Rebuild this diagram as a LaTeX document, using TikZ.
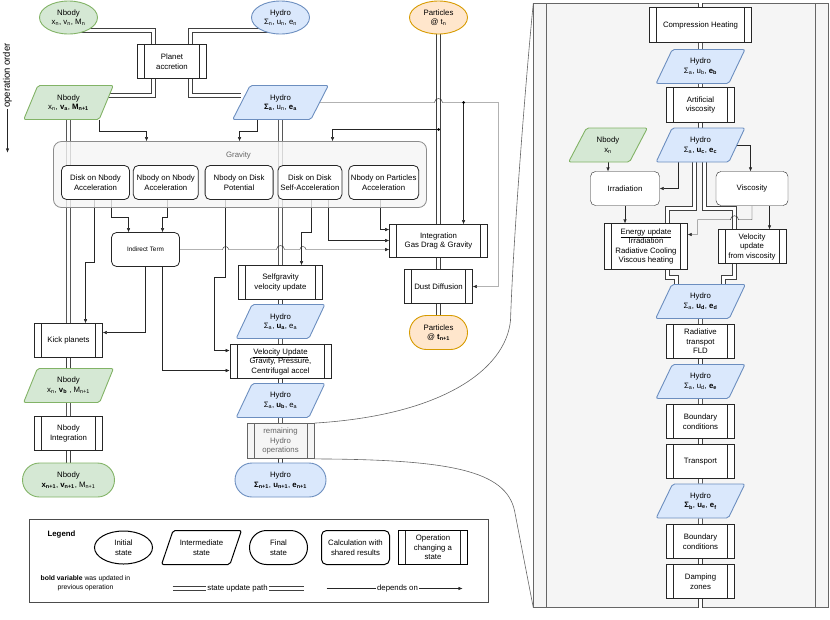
\documentclass[tikz,border=0pt]{standalone}
\usepackage{fontspec}
\setmainfont{Liberation Sans}
\usepackage{tikz}
\usetikzlibrary{shapes, arrows.meta, positioning, calc}
\pgfdeclarelayer{back}
\pgfdeclarelayer{links}
\pgfsetlayers{back,links,main}

\definecolor{nbodyfill}{HTML}{D5E8D4}
\definecolor{nbodyline}{HTML}{82B366}
\definecolor{hydrofill}{HTML}{DAE8FC}
\definecolor{hydroline}{HTML}{6C8EBF}
\definecolor{partfill}{HTML}{FFE6CC}
\definecolor{partline}{HTML}{D79B00}
\definecolor{panelfill}{HTML}{F5F5F5}
\definecolor{panelline}{HTML}{666666}

\newcommand{\lo}[1]{\textsubscript{#1}}

\begin{document}
\begin{tikzpicture}[x=1pt, y=1pt, line width=0.8pt, font=\fontsize{7.8}{9.5}\selectfont]
    % Styles
    \tikzstyle{startstate} = [ellipse, draw, line width=0.9pt, minimum width=58pt, minimum height=33pt, inner sep=0pt, align=center]
    \tikzstyle{midstate} = [trapezium, trapezium left angle=60, trapezium right angle=120, trapezium stretches=true, draw, line width=0.9pt, rounded corners=2pt, minimum width=89pt, minimum height=34pt, inner sep=0pt, align=center]
    \tikzstyle{endstate} = [rectangle, rounded corners=17pt, draw, line width=0.9pt, minimum width=91pt, minimum height=34pt, inner sep=0pt, align=center]
    \tikzstyle{calcbox} = [rectangle, rounded corners=5pt, draw=black!85, fill=white, minimum width=68pt, minimum height=34pt, inner sep=1pt, align=center]
    \tikzstyle{opline} = [draw=black!85]
    \tikzstyle{opbox} = [rectangle, draw=black!85, fill=white, minimum width=68pt, minimum height=34pt, inner sep=1pt, align=center,
        path picture={\draw[opline] ([xshift=7pt]path picture bounding box.north west) -- ([xshift=7pt]path picture bounding box.south west)
            ([xshift=-7pt]path picture bounding box.north east) -- ([xshift=-7pt]path picture bounding box.south east);}]
    \tikzstyle{nbodycol} = [fill=nbodyfill, draw=nbodyline]
    \tikzstyle{hydrocol} = [fill=hydrofill, draw=hydroline]
    \tikzstyle{partcol} = [fill=partfill, draw=partline]
    \tikzstyle{legshape} = [draw=black, line width=1pt, fill=none]
    \tikzstyle{upd} = [draw=black!75, double=white, double distance=3.2pt, line width=0.8pt]
    \tikzstyle{dep} = [draw=black!85, ->, >={Latex[length=4pt, width=3.5pt]}]
    \tikzstyle{junction} = [circle, fill=black, inner sep=0pt, minimum size=3pt]

    \useasboundingbox (-0.5,0.5) rectangle (829.5,-618.5);

    % Operation order
    \node [rotate=90, fill=white, inner sep=1pt, font=\fontsize{9.5}{11}\selectfont] (order) at (7,-75) {operation order};
    \coordinate (orderend) at (7,-152);

    % Initial states
    \node [startstate, nbodycol] (nbodyN) at (68,-17) {Nbody\\x\lo{n}, v\lo{n}, M\lo{n}};
    \node [startstate, hydrocol] (hydroN) at (280,-17) {Hydro\\Σ\lo{n}, u\lo{n}, e\lo{n}};
    \node [startstate, partcol] (partN) at (438,-17) {Particles\\@ t\lo{n}};

    % Planet accretion
    \node [opbox, minimum width=69pt] (planet) at (171.5,-61) {Planet\\accretion};
    \node [midstate, nbodycol, minimum width=90pt] (nbodyA) at (68,-102) {Nbody\\x\lo{n}, \textbf{v\lo{a}}, \textbf{M\lo{n+1}}};
    \node [midstate, hydrocol, minimum width=96pt] (hydroA) at (280,-102) {Hydro\\\textbf{Σ\lo{a}}, u\lo{n}, \textbf{e\lo{a}}};

    % Gravity
    \node [draw=black!45, fill=panelfill, fill opacity=0.8, rounded corners=8pt, minimum width=373pt, minimum height=66pt] (gravity) at (239.5,-174) {};
    \node [text=black!60] (gravlabel) at (238,-155) {Gravity};
    \node [calcbox] (g1) at (95,-182) {Disk on Nbody\\Acceleration};
    \node [calcbox, minimum width=65pt, right=3pt of g1] (g2) {Nbody on Nbody\\Acceleration};
    \node [calcbox, right=6pt of g2] (g3) {Nbody on Disk\\Potential};
    \node [calcbox, minimum width=64pt, right=4pt of g3] (g4) {Disk on Disk\\Self-Acceleration};
    \node [calcbox, minimum width=70pt, right=6pt of g4] (g5) {Nbody on Particles\\Acceleration};
    \node [calcbox, font=\fontsize{6.4}{8}\selectfont] (indirect) at (145,-249) {Indirect Term};

    % Nbody column
    \node [opbox] (kick) at (68,-340) {Kick planets};
    \node [midstate, nbodycol, minimum width=90pt] (nbodyB) at (68,-385) {Nbody\\x\lo{n}, \textbf{v\lo{b}} , M\lo{n+1}};
    \node [opbox] (nbodyInt) at (68,-433) {Nbody\\Integration};
    \node [endstate, nbodycol, minimum width=92pt] (nbodyF) at (68,-479.5) {Nbody\\\textbf{x\lo{n+1}}, \textbf{v\lo{n+1}}, M\lo{n+1}};

    % Hydro column
    \node [opbox, minimum width=84pt] (selfgrav) at (280,-282) {Selfgravity\\velocity update};
    \node [midstate, hydrocol] (hydroUa) at (280,-321) {Hydro\\Σ\lo{a}, \textbf{u\lo{a}}, e\lo{a}};
    \node [opbox, minimum width=101pt] (velupd) at (280,-361) {\underline{Velocity Update}\\Gravity, Pressure,\\Centrifugal accel};
    \node [midstate, hydrocol] (hydroUb) at (280,-400) {Hydro\\Σ\lo{a}, \textbf{u\lo{b}}, e\lo{a}};
    \node [opbox, minimum width=67pt, minimum height=35pt, fill=panelfill, draw=panelline, text=black!60, opline/.style={draw=panelline}] (remain) at (280,-440.5) {remaining\\Hydro\\operations};
    \node [endstate, hydrocol] (hydroF) at (280,-479.5) {Hydro\\\textbf{Σ\lo{n+1}}, \textbf{u\lo{n+1}}, \textbf{e\lo{n+1}}};

    % Particles column
    \node [opbox, minimum width=98pt, minimum height=33pt] (integ) at (438,-240.5) {Integration\\Gas Drag \& Gravity};
    \node [opbox] (dust) at (438,-286) {Dust Diffusion};
    \node [endstate, partcol, minimum width=58pt] (partF) at (438,-332) {Particles\\@ \textbf{t\lo{n+1}}};
    \node [junction] (jh) at (463,-102) {};
    \node [junction] (jp) at (438,-129) {};

    % Remaining hydro operations
    \begin{pgfonlayer}{back}
    \node [draw=panelline, fill=panelfill, minimum width=295pt, minimum height=604pt,
        path picture={\draw[panelline] ([xshift=13pt]path picture bounding box.north west) -- ([xshift=13pt]path picture bounding box.south west)
            ([xshift=-13pt]path picture bounding box.north east) -- ([xshift=-13pt]path picture bounding box.south east);}] (panel) at (680.5,-305) {};
    \draw [panelline, line width=0.6pt] (remain.north east) .. controls (440,-415) and (505,-370) .. (510,-320) .. controls (513,-230) and (527,-60) .. (panel.north west);
    \draw [panelline, line width=0.6pt] (remain.south east) .. controls (450,-459) and (505,-470) .. (514,-510) -- (panel.south west);
    \end{pgfonlayer}
    \node [opbox, minimum width=102pt, minimum height=35pt] (comp) at (700,-24.5) {Compression Heating};
    \node [midstate, hydrocol] (hydroEb) at (700,-66) {Hydro\\Σ\lo{a}, u\lo{b}, \textbf{e\lo{b}}};
    \node [opbox, minimum height=35pt] (artvisc) at (700,-104.5) {Artificial\\viscosity};
    \node [midstate, hydrocol] (hydroUc) at (700,-144.5) {Hydro\\Σ\lo{a}, \textbf{u\lo{c}}, \textbf{e\lo{c}}};
    \node [midstate, nbodycol, minimum width=79pt] (nbodyXn) at (607.5,-144.5) {Nbody\\x\lo{n}};
    \node [calcbox, minimum width=69pt] (irrad) at (624.5,-188) {Irradiation};
    \node [calcbox, minimum width=72pt] (visc) at (751.5,-188) {Viscosity};
    \node [opbox, minimum width=83pt, minimum height=46pt] (energy) at (645.5,-246) {\underline{Energy update}\\Irradiation\\Radiative Cooling\\Viscous heating};
    \node [opbox] (velvisc) at (751.5,-246) {Velocity\\update\\from viscosity};
    \node [midstate, hydrocol, minimum width=90pt] (hydroD) at (700,-301) {Hydro\\Σ\lo{a}, \textbf{u\lo{d}}, \textbf{e\lo{d}}};
    \node [opbox] (radtr) at (700,-341) {Radiative\\transpot\\FLD};
    \node [midstate, hydrocol] (hydroE) at (700,-381) {Hydro\\Σ\lo{a}, u\lo{d}, \textbf{e\lo{e}}};
    \node [opbox] (bc1) at (700,-421) {Boundary\\conditions};
    \node [opbox] (transp) at (700,-461) {Transport};
    \node [midstate, hydrocol] (hydroFf) at (700,-500.5) {Hydro\\\textbf{Σ\lo{b}}, \textbf{u\lo{e}}, \textbf{e\lo{f}}};
    \node [opbox] (bc2) at (700,-541) {Boundary\\conditions};
    \node [opbox] (damp) at (700,-581) {Damping\\zones};

    % Legend
    \node [draw=black!70, minimum width=459pt, minimum height=83pt] (legend) at (258.5,-560.5) {};
    \node [font=\bfseries\fontsize{7.8}{9.5}\selectfont] (legtitle) at (61,-534) {Legend};
    \node [startstate, legshape] (lstart) at (123,-547) {Initial\\state};
    \node [midstate, legshape, minimum width=80pt] (lmid) at (201,-547) {Intermediate\\state};
    \node [endstate, legshape, minimum width=58pt] (lend) at (278,-547) {Final\\state};
    \node [calcbox, legshape] (lcalc) at (355,-547) {Calculation with\\shared results};
    \node [opbox, legshape, minimum width=69pt] (lop) at (432.5,-547) {Operation\\changing a\\state};
    \node [font=\fontsize{6.8}{8.5}\selectfont, align=center] (lbold) at (85,-582.5) {\textbf{bold variable} was updated in\\previous operation};
    \coordinate (su1) at (172,-588);
    \coordinate (su2) at (303,-588);
    \node [fill=white, inner sep=1pt] (sulabel) at (237,-588) {state update path};
    \coordinate (do1) at (326,-588);
    \coordinate (do2) at (462,-588);
    \node [fill=white, inner sep=1pt] (dolabel) at (397,-588) {depends on};

    \begin{pgfonlayer}{links}
    % State update paths
    \draw [upd] ($(nbodyN.center)+(10,-13)$) -| ([xshift=-18.5pt]planet.north);
    \draw [upd] ($(hydroN.center)+(-10,-13)$) -| ([xshift=18.5pt]planet.north);
    \draw [upd] ([xshift=-18.5pt]planet.south) |- ([yshift=7pt]nbodyA.east);
    \draw [upd] ([xshift=18.5pt]planet.south) |- ([yshift=7pt]hydroA.west);
    \draw [upd] (nbodyA) -- (kick);
    \draw [upd] (kick) -- (nbodyB);
    \draw [upd] (nbodyB) -- (nbodyInt);
    \draw [upd] (nbodyInt) -- (nbodyF);
    \draw [upd] (hydroA) -- (selfgrav);
    \draw [upd] (selfgrav) -- (hydroUa);
    \draw [upd] (hydroUa) -- (velupd);
    \draw [upd] (velupd) -- (hydroUb);
    \draw [upd] (hydroUb) -- (remain);
    \draw [upd] (remain) -- (hydroF);
    \draw [upd] (partN) -- (integ);
    \draw [upd] (integ) -- (dust);
    \draw [upd] (dust) -- (partF);
    \draw [upd] (comp.north |- panel.north) -- (comp);
    \draw [upd] (comp) -- (hydroEb);
    \draw [upd] (hydroEb) -- (artvisc);
    \draw [upd] (artvisc) -- (hydroUc);
    \draw [upd] ([xshift=-6pt]hydroUc.south) -- ++(0,-46) -| ([xshift=21.5pt]energy.north);
    \draw [upd] ([xshift=4pt]hydroUc.south) -- ++(0,-46) -| ([xshift=-17.5pt]velvisc.north);
    \draw [upd] ([xshift=21.5pt]energy.south) -- ++(0,-8) -| ([xshift=-24pt]hydroD.north);
    \draw [upd] ([xshift=-17.5pt]velvisc.south) -- ++(0,-14) -| ([xshift=23pt]hydroD.north);
    \draw [upd] (hydroD) -- (radtr);
    \draw [upd] (radtr) -- (hydroE);
    \draw [upd] (hydroE) -- (bc1);
    \draw [upd] (bc1) -- (transp);
    \draw [upd] (transp) -- (hydroFf);
    \draw [upd] (hydroFf) -- (bc2);
    \draw [upd] (bc2) -- (damp);
    \draw [upd] (damp) -- (damp.south |- panel.south);

    % Dependencies
    \draw [dep] ([xshift=31pt]nbodyA.south) -- ++(0,-11) -| ([xshift=-93.5pt]gravity.north);
    \draw [dep] ([xshift=-23pt]hydroA.south) -- ++(0,-11) -| ([xshift=-0.5pt]gravity.north);
    \draw [dep] (jp.center) -| ([xshift=92.5pt]gravity.north);
    \draw [dep] (hydroA.east) -- ($(partN.south |- hydroA.east)+(-4,0)$) arc[start angle=180, end angle=0, radius=4] -- (jh.center) -- ++(35,0) |- (dust.east);
    \draw [dep] (jh.center) -- (jh |- integ.north);
    \draw [dep] ([xshift=-1pt]g1.south) -- ++(0,-62) -| ([xshift=17pt]kick.north);
    \draw [dep] ([xshift=16pt]g1.south) -- ++(0,-17) -| ([xshift=-17pt]indirect.north);
    \draw [dep] ([xshift=1.5pt]g2.south) -- ++(0,-17) -| ([xshift=17pt]indirect.north);
    \draw [dep] ([xshift=-13.5pt]g3.south) -- ++(0,-77) -- ++(-11,0) |- ([yshift=11pt]velupd.west);
    \draw [dep] ([xshift=1pt]g4.south) -- ++(0,-32) -| ([xshift=21pt]selfgrav.north);
    \draw [dep] ([xshift=18pt]g4.south) |- ([yshift=0.5pt]integ.west);
    \draw [dep] ([xshift=-4pt]g5.south) |- ([yshift=11.5pt]integ.west);
    \draw [dep] (indirect.east) -- ($(g3.south |- indirect.east)+(-16.5,0)$) arc[start angle=180, end angle=0, radius=3]
        -- ($(hydroA.south |- indirect.east)+(-4,0)$) arc[start angle=180, end angle=0, radius=4]
        -- ($(g4.south |- indirect.east)+(-10,0)$) arc[start angle=180, end angle=0, radius=3] -- ([yshift=-8.5pt]integ.west);
    \draw [dep] (indirect.south) |- ([yshift=8pt]kick.east);
    \draw [dep] ([xshift=17pt]indirect.south) |- ([yshift=-9pt]velupd.west);
    \draw [dep] (nbodyXn.south) -- (nbodyXn.south |- irrad.north);
    \draw [dep] ([xshift=-22pt]hydroUc.south) |- (irrad.east);
    \draw [dep] (hydroUc.east) -| ([xshift=-1.5pt]visc.north);
    \draw [dep] (irrad.south) -- (irrad.south |- energy.north);
    \draw [dep] (visc.south) -- ++(0,-14) -- ($(visc.south)+(-13.5,-14)$) arc[start angle=0, end angle=180, radius=4] -- ++(-33,0) |- ([yshift=12pt]energy.east);
    \draw [dep] ([xshift=17.5pt]visc.south) -- ([xshift=17.5pt]velvisc.north);

    % Legend and order lines
    \draw [upd] (su1) -- (su2);
    \draw [dep] (do1) -- (do2);
    \draw [dep] (order.west) -- (orderend);
    \end{pgfonlayer}

\end{tikzpicture}
\end{document}
